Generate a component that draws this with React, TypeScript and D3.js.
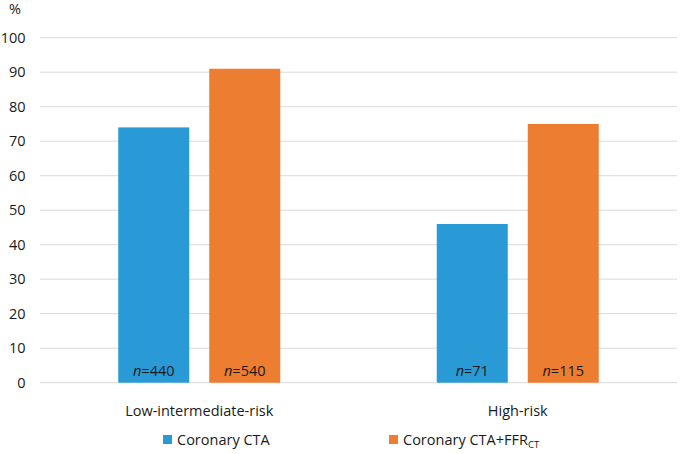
import React from "react";
import * as d3 from "d3";

const categories = ["Low-intermediate-risk", "High-risk"];
const seriesNames = ["Coronary CTA", "Coronary CTA+FFR"];
const ctaValues = [74, 46];
const ffrValues = [91, 75];
const ctaN = ["440", "71"];
const ffrN = ["540", "115"];
const yTicks = [0, 10, 20, 30, 40, 50, 60, 70, 80, 90, 100];
const colors = ["#299AD6", "#ED7D31"];

const W = 680;
const H = 454;
const FONT = "'Open Sans', 'Noto Sans', sans-serif";
const TXT = "#1a1a1a";
const FS = 14.5;

export default function App() {
  const left = 40, right = 677, top = 37.7, bottom = 382.7;
  const y = d3.scaleLinear().domain([0, 100]).range([bottom, top]);
  const x0 = d3.scaleBand().domain(categories).range([left, right]).padding(0);
  const groupW = 162;
  const x1 = d3.scaleBand().domain(seriesNames).range([0, groupW]).paddingInner(20 / 91).paddingOuter(0);
  const values = [ctaValues, ffrValues];
  const nLabels = [ctaN, ffrN];

  return (
    <svg width={W} height={H} style={{ position: "absolute", left: 0, top: 0, display: "block", background: "#fff" }} fontFamily={FONT}>
      {yTicks.map((t) => (
        <g key={t}>
          <line x1={left} x2={right} y1={y(t)} y2={y(t)} stroke="#D9D9D9" strokeWidth={1} />
          <text x={25.5} y={y(t)} dy="0.36em" textAnchor="end" fontSize={FS} fill={TXT}>{t}</text>
        </g>
      ))}
      <text x={9} y={14} fontSize={FS} fill={TXT}>%</text>
      {categories.map((c, ci) => {
        const gx = (x0(c) as number) + (x0.bandwidth() - groupW) / 2;
        return (
          <g key={c}>
            {seriesNames.map((s, si) => {
              const bx = gx + (x1(s) as number);
              const v = values[si][ci];
              return (
                <g key={s}>
                  <rect x={bx} y={y(v)} width={x1.bandwidth()} height={y(0) - y(v)} fill={colors[si]} />
                  <text x={bx + x1.bandwidth() / 2} y={376} textAnchor="middle" fontSize={FS} fill={TXT}>
                    <tspan fontStyle="italic">n</tspan>={nLabels[si][ci]}
                  </text>
                </g>
              );
            })}
            <text x={(x0(c) as number) + x0.bandwidth() / 2} y={416} textAnchor="middle" fontSize={FS} fill={TXT}>{c}</text>
          </g>
        );
      })}
      <g>
        <rect x={163} y={435} width={9} height={9} fill={colors[0]} />
        <text x={177} y={445} fontSize={FS} fill={TXT}>{seriesNames[0]}</text>
        <rect x={389} y={435} width={9} height={9} fill={colors[1]} />
        <text x={403} y={445} fontSize={FS} fill={TXT}>
          {seriesNames[1]}
          <tspan fontSize={9.5} dy={3}>CT</tspan>
        </text>
      </g>
    </svg>
  );
}
